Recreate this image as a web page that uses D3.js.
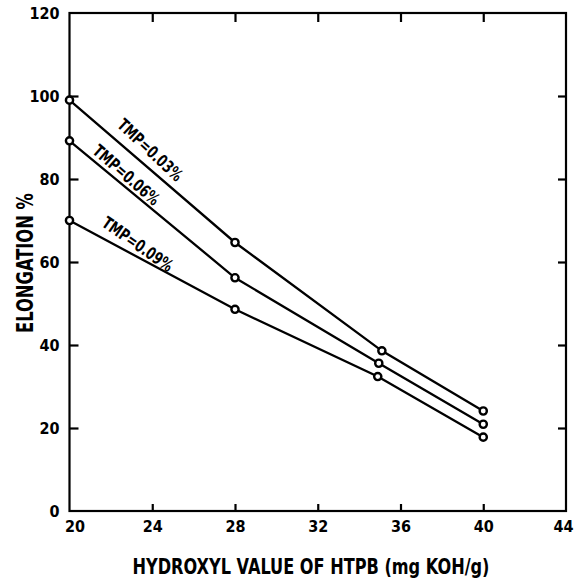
<!DOCTYPE html>
<html>
<head>
<meta charset="utf-8">
<script src="https://cdn.jsdelivr.net/npm/d3@7"></script>
<style>
  html, body { margin: 0; padding: 0; background: #fff; }
  #root { width: 574px; height: 583px; }
  text { font-family: "DejaVu Sans Condensed", "Liberation Sans Narrow", sans-serif; font-weight: bold; fill: #000; }
</style>
</head>
<body>
<div id="root"></div>
<script>
const xTicks = [20, 24, 28, 32, 36, 40, 44];
const yTicks = [0, 20, 40, 60, 80, 100, 120];

const seriesNames = ['TMP=0.03%', 'TMP=0.06%', 'TMP=0.09%'];
const hydroxyl03 = [20, 28, 35.1, 40];
const elong03 = [99, 64.7, 38.6, 24.1];
const hydroxyl06 = [20, 28, 34.95, 40];
const elong06 = [89.2, 56.2, 35.6, 20.9];
const hydroxyl09 = [20, 28, 34.9, 40];
const elong09 = [70, 48.6, 32.4, 17.8];

// label anchors in data units, with rotation
const labelX = [23.9, 22.75, 23.3];
const labelY = [87, 81, 64.3];
const labelAngle = [43, 41, 35];

const series = [
  { name: seriesNames[0], xs: hydroxyl03, ys: elong03 },
  { name: seriesNames[1], xs: hydroxyl06, ys: elong06 },
  { name: seriesNames[2], xs: hydroxyl09, ys: elong09 },
];

const width = 574, height = 583;
const svg = d3.select('#root').append('svg')
  .attr('width', width)
  .attr('height', height);

const x = d3.scaleLinear().domain([20, 44]).range([69.5, 566]);
const y = d3.scaleLinear().domain([0, 120]).range([511, 13]);

// frame
svg.append('rect')
  .attr('x', x(20)).attr('y', y(120))
  .attr('width', x(44) - x(20)).attr('height', y(0) - y(120))
  .attr('fill', 'none').attr('stroke', '#000').attr('stroke-width', 2.2);

function styleAxis(g) {
  g.select('.domain').remove();
  g.selectAll('line').attr('stroke', '#000').attr('stroke-width', 2.2);
  g.selectAll('text').attr('font-size', 16).style('font-family', null);
}

svg.append('g')
  .attr('transform', `translate(0,${y(0)})`)
  .call(d3.axisBottom(x).tickValues(xTicks).tickSize(-7).tickPadding(10).tickFormat(d3.format('d')))
  .call(styleAxis)
  .call(g => g.selectAll('.tick').filter(d => d === 20 || d === 44).select('line').remove())
  .call(g => g.selectAll('.tick').filter(d => d === 20).select('text').attr('dx', 5))
  .call(g => g.selectAll('.tick').filter(d => d === 44).select('text').attr('dx', -3));

svg.append('g')
  .attr('transform', `translate(0,${y(120)})`)
  .call(d3.axisTop(x).tickValues(xTicks.slice(1, -1)).tickSize(-9).tickFormat(''))
  .call(styleAxis);

svg.append('g')
  .attr('transform', `translate(${x(20)},0)`)
  .call(d3.axisLeft(y).tickValues(yTicks).tickSize(-9).tickPadding(10).tickFormat(d3.format('d')))
  .call(styleAxis)
  .call(g => g.selectAll('.tick').filter(d => d === 0 || d === 120).select('line').remove());

svg.append('g')
  .attr('transform', `translate(${x(44)},0)`)
  .call(d3.axisRight(y).tickValues(yTicks.slice(1, -1)).tickSize(-8).tickFormat(''))
  .call(styleAxis);

// axis titles
svg.append('text')
  .attr('x', 311)
  .attr('y', 574)
  .attr('text-anchor', 'middle')
  .attr('font-size', 22)
  .attr('textLength', 357)
  .attr('lengthAdjust', 'spacingAndGlyphs')
  .text('HYDROXYL VALUE OF HTPB (mg KOH/g)');

svg.append('text')
  .attr('transform', 'translate(33,263) rotate(-90)')
  .attr('text-anchor', 'middle')
  .attr('font-size', 23)
  .attr('textLength', 140)
  .attr('lengthAdjust', 'spacingAndGlyphs')
  .text('ELONGATION %');

const line = d3.line()
  .x(d => x(d[0]))
  .y(d => y(d[1]));

const groups = svg.selectAll('.series')
  .data(series)
  .enter()
  .append('g')
  .attr('class', 'series');

groups.append('path')
  .attr('d', d => line(d.xs.map((v, i) => [v, d.ys[i]])))
  .attr('fill', 'none')
  .attr('stroke', '#000')
  .attr('stroke-width', 2.3);

groups.selectAll('circle')
  .data(d => d.xs.map((v, i) => [v, d.ys[i]]))
  .enter()
  .append('circle')
  .attr('cx', d => x(d[0]))
  .attr('cy', d => y(d[1]))
  .attr('r', 3.6)
  .attr('fill', '#fff')
  .attr('stroke', '#000')
  .attr('stroke-width', 2.4);

groups.append('text')
  .attr('transform', (d, i) => `translate(${x(labelX[i])},${y(labelY[i])}) rotate(${labelAngle[i]})`)
  .attr('text-anchor', 'middle')
  .attr('dy', '0.35em')
  .attr('font-size', 17)
  .attr('textLength', 82)
  .attr('lengthAdjust', 'spacingAndGlyphs')
  .text(d => d.name);
</script>
</body>
</html>
